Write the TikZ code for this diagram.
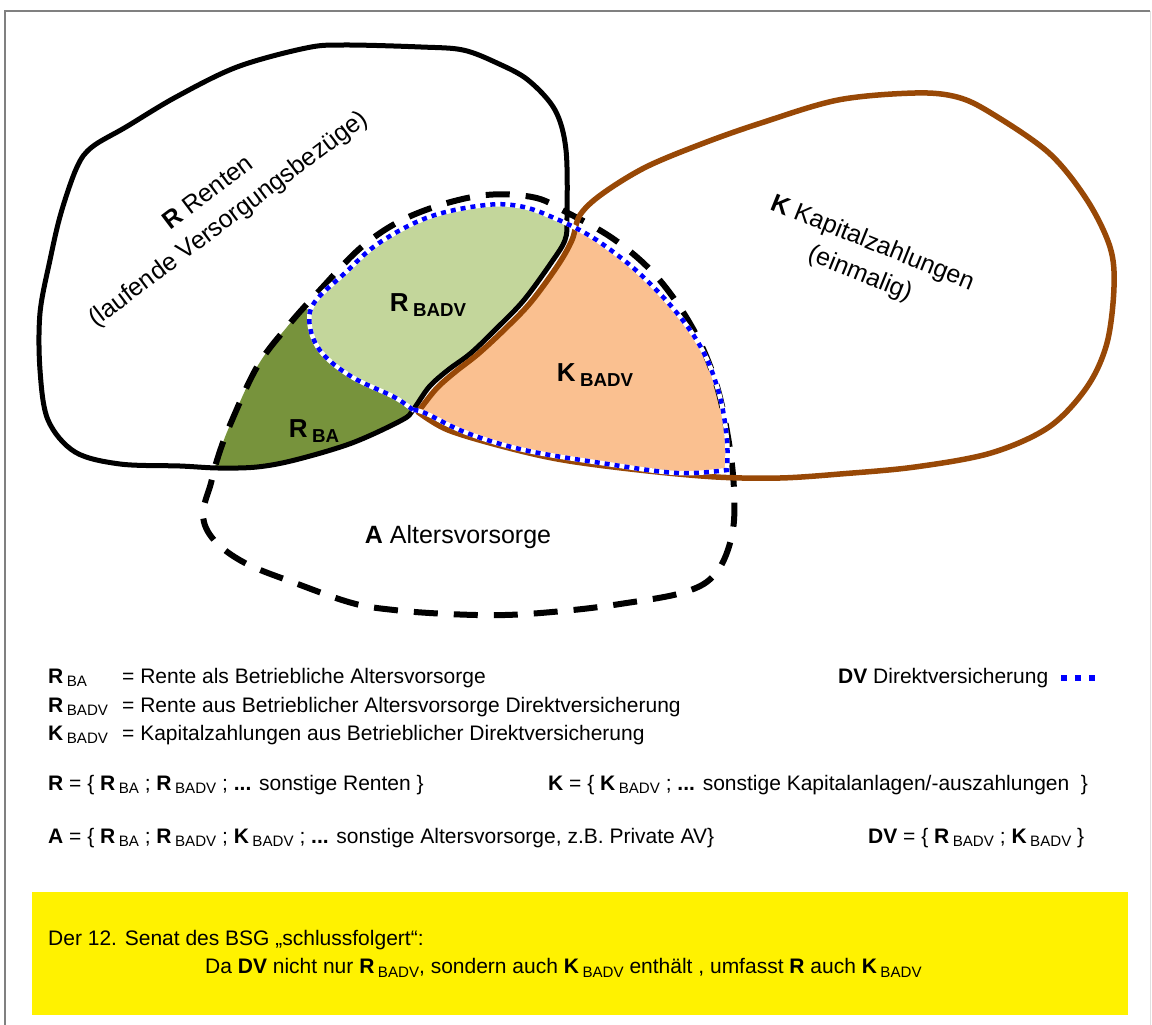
\documentclass[tikz,border=0pt]{standalone}
\usepackage{fontspec}
\setmainfont{Liberation Sans}
\usetikzlibrary{positioning}
\definecolor{brownK}{RGB}{152,72,6}
\definecolor{lightR}{RGB}{195,214,155}
\definecolor{darkR}{RGB}{119,147,60}
\definecolor{peachK}{RGB}{250,192,144}
\definecolor{dvblue}{RGB}{0,0,255}
\definecolor{framegray}{RGB}{128,128,128}
\newcommand{\subidx}[1]{\,\raisebox{-0.3ex}{\scalebox{0.72}{#1}}}
\newcommand{\shapeR}{plot[smooth cycle,tension=0.55] coordinates {(566,150) (555,110) (528,80) (497,63) (463,50) (421,47) (344,45) (306,48) (237,67) (176,97) (126,127) (92,147) (77,167) (61,213) (50,260) (40,313) (40,370) (48,420) (75,452) (120,464) (180,466) (218,468) (257,467) (295,460) (352,443) (402,420) (413,410) (429,387) (448,370) (471,353) (498,327) (524,300) (551,263) (565,240) (567,217)}}
\newcommand{\shapeK}{plot[smooth,tension=0.55] coordinates {(418,412) (448,430) (505,447) (563,460) (639,470) (716,477) (780,478) (840,474) (915,467) (991,453) (1049,427) (1087,387) (1107,343) (1114,287) (1110,247) (1087,200) (1049,153) (991,113) (957,97) (915,93) (838,100) (761,123) (704,143) (646,167) (602,194) (580,215) (572,240) (558,265) (531,302) (505,329) (478,354) (455,372) (436,389) (418,412)}}
\newcommand{\shapeA}{plot[smooth cycle,tension=0.6] coordinates {(218,457) (230,425) (257,367) (287,327) (320,290) (364,245) (413,215) (478,196) (532,197) (566,212) (615,240) (657,277) (692,327) (715,380) (728,437) (734,490) (732,535) (716,573) (685,592) (620,604) (563,611) (505,615) (448,614) (394,610) (352,603) (295,583) (245,563) (214,540) (203,515) (211,483)}}
\newcommand{\shapeDV}{plot[smooth,tension=0.6] coordinates {(413,410) (394,397) (352,377) (322,353) (310,327) (314,303) (345,273) (379,243) (429,217) (486,205) (524,207) (559,220) (574,227) (601,243) (639,273) (677,313) (704,353) (720,397) (727,440) (727,470)} -- plot[smooth,tension=0.6] coordinates {(727,470) (677,473) (601,463) (524,450) (467,433) (425,413) (413,410)}}
\tikzset{
  rline/.style={line width=5pt,line join=round},
  kline/.style={brownK,line width=5.5pt,line join=round},
  aline/.style={line width=6pt,dash pattern=on 24pt off 16pt},
  dvback/.style={white,line width=4.5pt},
  dvline/.style={dvblue,line width=4.5pt,dash pattern=on 5pt off 5pt},
  dvkey/.style={dvblue,line width=6pt,dash pattern=on 6pt off 8pt},
  biglabel/.style={font=\fontsize{25}{33}\selectfont,align=center,inner sep=0pt},
  sublabel/.style={font=\fontsize{26}{30}\selectfont\bfseries,inner sep=0pt},
  legend/.style={font=\fontsize{21}{24}\selectfont,anchor=west,inner sep=0pt}
}
\begin{document}
\begin{tikzpicture}[x=1pt,y=-1pt]
\useasboundingbox (0,0) rectangle (1152,1025);
\draw[framegray,line width=2pt] (5,1025) -- (5,11) -- (1150,11);
\draw[black!12,line width=1pt] (1150,11) -- (1150,1025);

\begin{scope}
\clip \shapeA;
\clip \shapeR;
\fill[darkR] (100,520) -- (100,280) -- (312,310) -- (420,400) -- (440,520) -- cycle;
\end{scope}
\begin{scope}
\clip \shapeDV -- cycle;
\fill[lightR] \shapeR;
\fill[peachK] \shapeK -- cycle;
\end{scope}

\draw[aline] \shapeA;
\draw[rline] \shapeR;
\draw[kline] \shapeK -- cycle;
\draw[dvback] \shapeDV -- cycle;
\draw[dvline] \shapeDV -- cycle;

\node (lbR) [biglabel,rotate=37] at (219,207) {\textbf{R} Renten\\(laufende Versorgungsbezüge)};
\node (lbK) [biglabel,rotate=-22] at (866,259) {\textbf{K} Kapitalzahlungen\\(einmalig)};
\node (lbA) [biglabel] at (458,537) {\textbf{A} Altersvorsorge};
\node (Rbadv) [sublabel] at (428,305) {R\subidx{BADV}};
\node (Rba) [sublabel] at (314,431) {R\subidx{BA}};
\node (Kbadv) [sublabel] at (595,375) {K\subidx{BADV}};

\node (lgRba) [legend] at (48,678) {\makebox[74pt][l]{\textbf{R}\subidx{BA}}= Rente als Betriebliche Altersvorsorge};
\node (lgRbadv) [legend] at (48,707) {\makebox[74pt][l]{\textbf{R}\subidx{BADV}}= Rente aus Betrieblicher Altersvorsorge Direktversicherung};
\node (lgKbadv) [legend] at (48,735) {\makebox[74pt][l]{\textbf{K}\subidx{BADV}}= Kapitalzahlungen aus Betrieblicher Direktversicherung};
\node (lgDV) [legend] at (838,678) {\textbf{DV} Direktversicherung};
\coordinate[right=13pt of lgDV] (dvS);
\coordinate[right=34pt of dvS] (dvE);
\draw[dvkey] (dvS) -- (dvE);

\node (setR) [legend] at (48,785) {\textbf{R} = \{ \textbf{R}\subidx{BA} ; \textbf{R}\subidx{BADV} ; \textbf{...} sonstige Renten \}};
\node (setK) [legend] at (548,785) {\textbf{K} = \{ \textbf{K}\subidx{BADV} ; \textbf{...} sonstige Kapitalanlagen/-auszahlungen~~\}};
\node (setA) [legend] at (48,838) {\textbf{A} = \{ \textbf{R}\subidx{BA} ; \textbf{R}\subidx{BADV} ; \textbf{K}\subidx{BADV} ; \textbf{...} sonstige Altersvorsorge, z.B. Private AV\}};
\node (setDV) [legend] at (868,838) {\textbf{DV} = \{ \textbf{R}\subidx{BADV} ; \textbf{K}\subidx{BADV} \}};

\node (note) [fill=yellow,minimum width=1096pt,minimum height=123pt,inner sep=0pt] at (580,953) {};
\node (noteA) [legend] at (48,940) {Der 12. Senat des BSG „schlussfolgert“:};
\node (noteB) [legend] at (205,968) {Da \textbf{DV} nicht nur \textbf{R}\subidx{BADV}, sondern auch \textbf{K}\subidx{BADV} enthält , umfasst \textbf{R} auch \textbf{K}\subidx{BADV}};
\end{tikzpicture}
\end{document}
